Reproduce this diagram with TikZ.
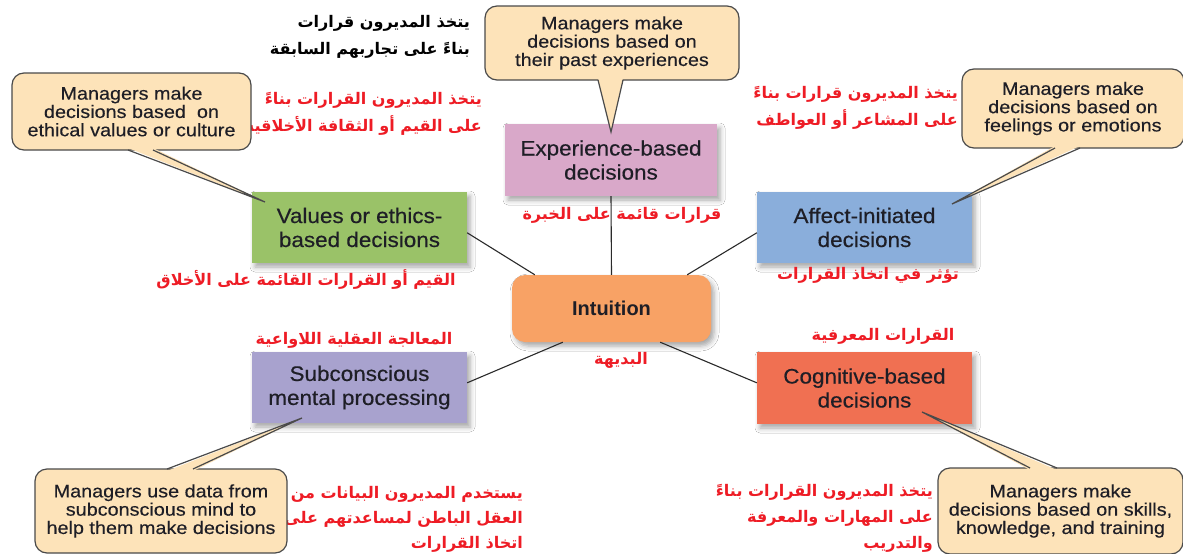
\documentclass[tikz,border=0pt]{standalone}
\usepackage{fontspec}
\setmainfont{Liberation Sans}
\newfontfamily\boxfont{Liberation Sans}[FakeStretch=1.07,FakeBold=0.4]
\newfontfamily\callfont{Liberation Sans}[FakeStretch=1.1,FakeBold=0.3]
\newfontfamily\arfont[Script=Arabic]{DejaVu Sans}
\TeXXeTstate=1
\usetikzlibrary{calc,shadows.blur}
\definecolor{pinkc}{HTML}{D9A8C9}
\definecolor{greenc}{HTML}{9AC268}
\definecolor{bluec}{HTML}{8AAEDB}
\definecolor{orangec}{HTML}{F8A265}
\definecolor{lavc}{HTML}{A8A2CE}
\definecolor{cogc}{HTML}{F07052}
\definecolor{tanc}{HTML}{FDE3B9}
\definecolor{bordc}{HTML}{4A4A4A}
\definecolor{redc}{HTML}{EE1C25}
\definecolor{txtc}{HTML}{1E1E26}
\definecolor{linkc}{HTML}{2A2A2A}
\tikzset{
  dbox/.style={rectangle, inner sep=0pt, align=center, text=txtc,
    font=\boxfont\fontsize{21}{24}\selectfont,
    minimum width=215pt, minimum height=71pt,
    blur shadow={shadow xshift=3pt, shadow yshift=-4pt, shadow blur radius=5pt, shadow opacity=35}},
  cbox/.style={rectangle, rounded corners=12pt, draw=bordc, line width=1.2pt, fill=tanc,
    align=center, text=txtc, font=\callfont\fontsize{18}{18.3}\selectfont, inner sep=0pt},
  ar/.style={font=\arfont\bfseries\fontsize{16}{27}\selectfont, text=redc, inner sep=0pt, align=right},
  link/.style={draw=linkc, line width=1.1pt},
  tailside/.style={draw=bordc, line width=1.2pt, line join=miter},
  tailfill/.style={fill=tanc},
}
\begin{document}
\begin{tikzpicture}[x=1pt,y=-1pt]
\useasboundingbox (0,0) rectangle (1183,554);
\fill[white] (0,0) rectangle (1183,554);

% main boxes
\node[dbox, fill=pinkc, minimum width=212pt, minimum height=72pt] (exp) at (611,160) {Experience-based\\decisions};
\node[dbox, fill=greenc] (val) at (359.5,227.5) {Values or ethics-\\based decisions};
\node[dbox, fill=bluec] (aff) at (864.5,227.5) {Affect-initiated\\decisions};
\node[dbox, fill=lavc] (sub) at (359.5,387.5) {Subconscious\\mental processing};
\node[dbox, fill=cogc, minimum height=72pt] (cog) at (864.5,388) {Cognitive-based\\decisions};
\node[dbox, fill=orangec, rounded corners=13pt, minimum width=199pt, minimum height=67pt,
  font=\setmainfont{Liberation Sans}\bfseries\fontsize{20}{24}\selectfont] (intu) at (611.5,308.5) {Intuition};

% connectors
\draw[link] (exp.south) -- (intu.north);
\draw[link] ($(val.north east)+(0,41)$) -- ($(intu.north west)+(23,0)$);
\draw[link] ($(aff.north west)+(0,41)$) -- ($(intu.north east)+(-24,0)$);
\draw[link] ($(sub.north east)+(0,31)$) -- ($(intu.south west)+(51,0)$);
\draw[link] ($(cog.north west)+(0,31)$) -- ($(intu.south east)+(-51,0)$);

% arabic labels
\node[ar, text=black, anchor=east] (a1) at (470,37) {\beginR يتخذ المديرون قرارات\endR\\\beginR بناءً على تجاربهم السابقة\endR};
\node[ar, anchor=east] (a2) at (482,114) {\beginR يتخذ المديرون القرارات بناءً\endR\\\beginR على القيم أو الثقافة الأخلاقية\endR};
\node[ar] (a3) at (306,280) {\beginR القيم أو القرارات القائمة على الأخلاق\endR};
\node[ar] (a4) at (622,215) {\beginR قرارات قائمة على الخبرة\endR};
\node[ar, anchor=east] (a5) at (958,108) {\beginR يتخذ المديرون قرارات بناءً\endR\\\beginR على المشاعر أو العواطف\endR};
\node[ar] (a6) at (868,275) {\beginR تؤثر في اتخاذ القرارات\endR};
\node[ar] (a7) at (354,340) {\beginR المعالجة العقلية اللاواعية\endR};
\node[ar] (a8) at (621,360) {\beginR البديهة\endR};
\node[ar] (a9) at (883,336) {\beginR القرارات المعرفية\endR};
\node[ar, anchor=east, font=\arfont\bfseries\fontsize{16}{25}\selectfont] (a10) at (523,519) {\beginR يستخدم المديرون البيانات من\endR\\\beginR العقل الباطن لمساعدتهم على\endR\\\beginR اتخاذ القرارات\endR};
\node[ar, anchor=east, font=\arfont\bfseries\fontsize{16}{26}\selectfont] (a11) at (933,518) {\beginR يتخذ المديرون القرارات بناءً\endR\\\beginR على المهارات والمعرفة\endR\\\beginR والتدريب\endR};

% callouts
\node[cbox, minimum width=239pt, minimum height=77pt] (c1) at (131.5,111.5) {Managers make\\decisions based \ on\\ethical values or culture};
\coordinate (c1a) at (128,150); \coordinate (c1b) at (153,150); \coordinate (c1t) at (265,202);
\fill[tailfill] ($(c1a)+(0,-2)$) -- (c1t) -- ($(c1b)+(0,-2)$) -- cycle;
\draw[tailside] (c1a) -- (c1t) -- (c1b);

\node[cbox, minimum width=254pt, minimum height=74pt] (c2) at (612,43) {Managers make\\decisions based on\\their past experiences};
\coordinate (c2a) at (598,80); \coordinate (c2b) at (623,80); \coordinate (c2t) at (611,132);
\fill[tailfill] ($(c2a)+(0,-2)$) -- (c2t) -- ($(c2b)+(0,-2)$) -- cycle;
\draw[tailside] (c2a) -- (c2t) -- (c2b);

\node[cbox, minimum width=222pt, minimum height=79pt] (c3) at (1073,108.5) {Managers make\\decisions based on\\feelings or emotions};
\coordinate (c3a) at (1055,148); \coordinate (c3b) at (1080,148); \coordinate (c3t) at (952,204);
\fill[tailfill] ($(c3a)+(0,-2)$) -- (c3t) -- ($(c3b)+(0,-2)$) -- cycle;
\draw[tailside] (c3a) -- (c3t) -- (c3b);

\node[cbox, minimum width=252pt, minimum height=84pt] (c4) at (161,511) {Managers use data from\\subconscious mind to\\help them make decisions};
\coordinate (c4a) at (167,469); \coordinate (c4b) at (193,469); \coordinate (c4t) at (302,418);
\fill[tailfill] ($(c4a)+(0,2)$) -- (c4t) -- ($(c4b)+(0,2)$) -- cycle;
\draw[tailside] (c4a) -- (c4t) -- (c4b);

\node[cbox, minimum width=245pt, minimum height=86pt] (c5) at (1060.5,511) {Managers make\\decisions based on skills,\\knowledge, and training};
\coordinate (c5a) at (1030,468); \coordinate (c5b) at (1057,468); \coordinate (c5t) at (922,412);
\fill[tailfill] ($(c5a)+(0,2)$) -- (c5t) -- ($(c5b)+(0,2)$) -- cycle;
\draw[tailside] (c5a) -- (c5t) -- (c5b);
\end{tikzpicture}
\end{document}
